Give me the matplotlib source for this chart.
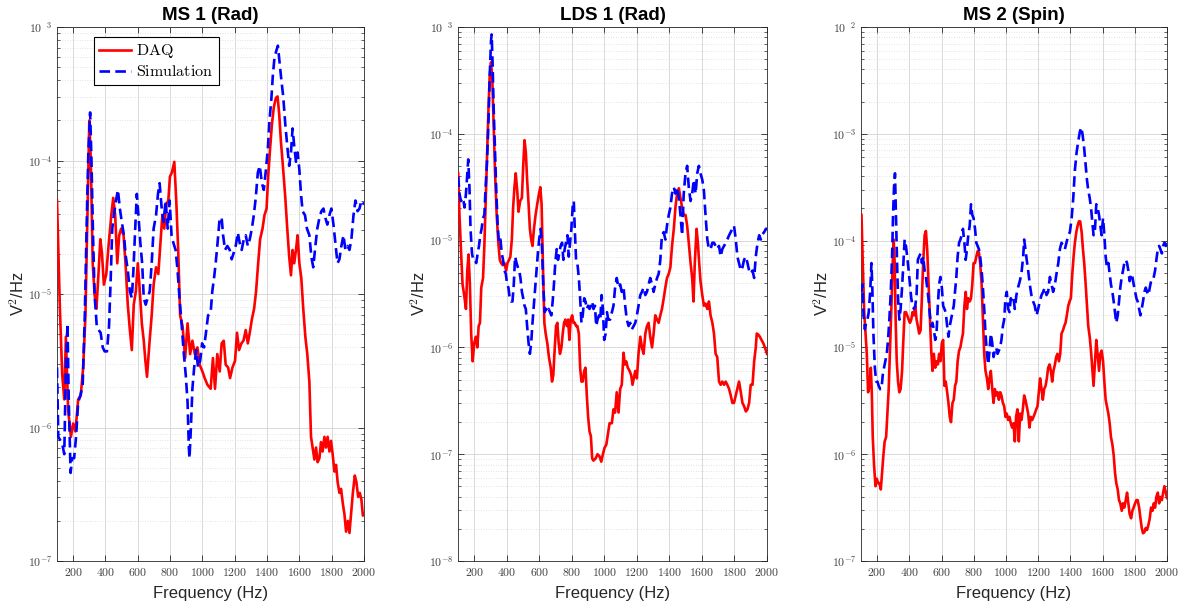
# -*- coding: utf-8 -*-
import matplotlib
matplotlib.use("Agg")
import numpy as np
import matplotlib.pyplot as plt
from matplotlib.ticker import LogLocator, FixedLocator, FuncFormatter, NullFormatter

# values: (frequency in Hz, log10 of PSD in V^2/Hz)
ms1_daq = [(100, -4.30), (118, -5.11), (132, -5.60), (145, -5.79), (155, -5.32), (169, -5.87),
           (186, -6.07), (200, -5.97), (214, -6.03), (231, -5.79), (247, -5.76), (262, -5.55),
           (276, -5.16), (288, -4.41), (300, -3.70), (309, -3.99), (321, -4.77), (333, -5.01),
           (344, -5.11), (358, -4.82), (368, -4.59), (378, -4.69), (390, -4.93), (405, -4.85),
           (419, -4.64), (436, -4.41), (448, -4.28), (460, -4.41), (473, -4.77), (485, -4.56),
           (497, -4.51), (512, -4.56), (524, -4.77), (538, -5.08), (551, -5.27), (563, -5.42),
           (575, -5.08), (588, -4.98), (600, -4.77), (610, -4.93), (625, -5.22), (637, -5.35),
           (647, -5.50), (657, -5.62), (672, -5.37), (686, -5.16), (698, -4.93), (713, -4.80),
           (727, -4.85), (739, -4.64), (752, -4.41), (764, -4.51), (776, -4.33), (789, -4.30),
           (799, -4.12), (811, -4.09), (826, -4.01), (838, -4.30), (850, -4.67), (862, -5.16),
           (877, -5.24), (893, -5.48), (908, -5.22), (924, -5.45), (938, -5.35), (953, -5.45),
           (969, -5.40), (983, -5.53), (1000, -5.58), (1014, -5.63), (1031, -5.68), (1051, -5.71),
           (1065, -5.48), (1078, -5.71), (1092, -5.45), (1107, -5.58), (1119, -5.37), (1132, -5.35),
           (1144, -5.53), (1159, -5.55), (1171, -5.63), (1186, -5.55), (1202, -5.50), (1214, -5.29),
           (1227, -5.42), (1241, -5.37), (1254, -5.35), (1268, -5.27), (1281, -5.37), (1293, -5.29),
           (1306, -5.19), (1320, -5.11), (1332, -4.98), (1345, -4.77), (1357, -4.59), (1372, -4.51),
           (1384, -4.41), (1397, -4.36), (1407, -4.12), (1417, -3.94), (1430, -3.73), (1442, -3.60),
           (1455, -3.53), (1465, -3.52), (1475, -3.65), (1486, -3.86), (1500, -4.07), (1513, -4.28),
           (1525, -4.51), (1537, -4.72), (1548, -4.86), (1558, -4.67), (1568, -4.77), (1579, -4.67),
           (1589, -4.56), (1600, -4.77), (1612, -4.88), (1624, -5.11), (1637, -5.32), (1649, -5.45),
           (1662, -5.66), (1672, -6.07), (1682, -6.15), (1693, -6.24), (1703, -6.15), (1713, -6.26),
           (1724, -6.23), (1734, -6.11), (1744, -6.18), (1755, -6.07), (1765, -6.15), (1775, -6.07),
           (1786, -6.18), (1796, -6.10), (1806, -6.20), (1817, -6.33), (1827, -6.28), (1837, -6.41),
           (1848, -6.49), (1858, -6.46), (1869, -6.57), (1879, -6.65), (1889, -6.78), (1900, -6.70),
           (1910, -6.79), (1920, -6.65), (1931, -6.49), (1943, -6.36), (1953, -6.41), (1964, -6.52),
           (1974, -6.49), (1984, -6.54), (1993, -6.66), (2000, -6.65)]

ms1_sim = [(100, -5.55), (108, -6.07), (118, -6.09), (132, -6.12), (145, -6.20), (155, -5.55),
           (165, -5.22), (173, -5.81), (184, -6.34), (194, -6.23), (206, -6.23), (218, -6.07),
           (231, -5.81), (245, -5.76), (259, -5.68), (272, -5.16), (284, -4.46), (294, -3.94),
           (305, -3.64), (313, -3.99), (323, -4.56), (333, -5.01), (346, -5.24), (358, -5.27),
           (370, -5.29), (383, -5.40), (395, -5.43), (409, -5.43), (422, -5.24), (432, -4.90),
           (442, -4.51), (452, -4.41), (465, -4.30), (477, -4.22), (489, -4.36), (501, -4.46),
           (514, -4.56), (526, -4.72), (538, -4.82), (551, -4.98), (563, -5.03), (573, -4.82),
           (584, -4.51), (594, -4.25), (604, -4.41), (616, -4.62), (627, -4.77), (637, -5.03),
           (649, -5.08), (661, -5.03), (674, -4.98), (686, -4.77), (698, -4.51), (713, -4.41),
           (725, -4.25), (735, -4.17), (748, -4.36), (760, -4.46), (772, -4.30), (785, -4.51),
           (797, -4.30), (809, -4.56), (821, -4.62), (834, -4.67), (846, -4.82), (858, -5.03),
           (871, -5.22), (883, -5.42), (897, -5.61), (908, -5.81), (916, -6.15), (920, -6.23),
           (928, -6.02), (938, -5.71), (949, -5.55), (961, -5.42), (973, -5.55), (986, -5.50),
           (998, -5.37), (1010, -5.40), (1022, -5.29), (1035, -5.16), (1051, -5.14), (1061, -4.98),
           (1072, -4.88), (1082, -4.77), (1092, -4.64), (1107, -4.43), (1119, -4.43), (1128, -4.56),
           (1140, -4.67), (1154, -4.64), (1169, -4.67), (1181, -4.74), (1194, -4.69), (1206, -4.64),
           (1219, -4.54), (1231, -4.62), (1243, -4.67), (1256, -4.59), (1268, -4.56), (1281, -4.64),
           (1293, -4.59), (1306, -4.51), (1318, -4.41), (1330, -4.28), (1343, -4.09), (1355, -4.04),
           (1368, -4.17), (1380, -4.22), (1393, -4.07), (1405, -3.91), (1415, -3.70), (1426, -3.55),
           (1436, -3.36), (1446, -3.23), (1457, -3.18), (1467, -3.14), (1477, -3.26), (1488, -3.39),
           (1500, -3.52), (1513, -3.73), (1525, -3.89), (1537, -4.04), (1548, -3.94), (1558, -3.76),
           (1568, -3.89), (1579, -4.01), (1589, -3.94), (1600, -4.07), (1610, -4.25), (1620, -4.38),
           (1635, -4.41), (1647, -4.51), (1662, -4.56), (1674, -4.72), (1686, -4.80), (1699, -4.64),
           (1711, -4.51), (1724, -4.43), (1736, -4.38), (1749, -4.36), (1761, -4.43), (1773, -4.48),
           (1786, -4.41), (1798, -4.36), (1811, -4.48), (1823, -4.62), (1836, -4.77), (1848, -4.74),
           (1860, -4.64), (1873, -4.56), (1885, -4.67), (1898, -4.64), (1910, -4.67), (1922, -4.59),
           (1935, -4.41), (1947, -4.30), (1960, -4.38), (1972, -4.36), (1984, -4.30), (2000, -4.33)]

lds1_daq = [(101, -4.37), (109, -4.76), (118, -5.08), (128, -5.41), (138, -5.51), (149, -5.64),
            (157, -5.28), (165, -5.13), (173, -5.41), (181, -5.87), (190, -6.13), (200, -5.96),
            (210, -5.90), (219, -6.00), (227, -5.80), (235, -5.77), (243, -5.44), (254, -5.35),
            (262, -5.05), (270, -4.66), (278, -4.24), (287, -3.78), (295, -3.46), (303, -3.33),
            (311, -3.49), (319, -3.91), (328, -4.37), (338, -4.76), (348, -5.02), (357, -5.18),
            (365, -5.21), (375, -5.23), (385, -5.21), (396, -5.28), (404, -5.21), (414, -5.18),
            (422, -5.15), (431, -4.99), (439, -4.69), (447, -4.50), (455, -4.37), (464, -4.53),
            (472, -4.73), (482, -4.63), (493, -4.60), (501, -4.30), (509, -4.06), (517, -4.17),
            (525, -4.43), (534, -4.66), (542, -4.89), (550, -4.99), (558, -5.05), (567, -4.89),
            (577, -4.76), (587, -4.66), (598, -4.56), (606, -4.50), (614, -4.66), (622, -5.21),
            (631, -5.77), (639, -5.87), (649, -5.96), (659, -6.09), (670, -6.19), (678, -6.32),
            (686, -6.26), (694, -6.03), (703, -5.80), (711, -5.77), (719, -5.96), (727, -6.06),
            (736, -6.00), (744, -5.87), (752, -5.77), (760, -5.74), (769, -5.80), (777, -5.74),
            (785, -5.93), (793, -5.74), (802, -5.70), (810, -5.77), (818, -5.77), (826, -5.80),
            (834, -5.80), (843, -5.87), (851, -6.19), (859, -6.32), (867, -6.32), (876, -6.22),
            (884, -6.19), (892, -6.45), (900, -6.65), (909, -6.79), (917, -6.83), (925, -7.04),
            (933, -7.06), (946, -7.04), (958, -7.00), (970, -7.02), (981, -7.07), (991, -7.00),
            (1001, -6.94), (1012, -6.91), (1022, -6.81), (1032, -6.71), (1046, -6.71), (1056, -6.58),
            (1066, -6.61), (1076, -6.42), (1087, -6.61), (1097, -6.39), (1107, -6.35), (1118, -6.05),
            (1126, -6.16), (1134, -6.13), (1144, -6.19), (1155, -6.22), (1165, -6.26), (1173, -6.35),
            (1181, -6.29), (1190, -6.22), (1200, -6.29), (1210, -6.06), (1221, -5.90), (1231, -6.00),
            (1241, -6.06), (1252, -5.87), (1262, -5.80), (1272, -5.77), (1282, -5.90), (1293, -6.00),
            (1303, -5.87), (1313, -5.70), (1324, -5.74), (1334, -5.77), (1344, -5.70), (1354, -5.64),
            (1365, -5.54), (1375, -5.44), (1385, -5.35), (1396, -5.31), (1406, -5.25), (1416, -5.05),
            (1427, -4.89), (1437, -4.69), (1447, -4.56), (1458, -4.51), (1468, -4.60), (1478, -4.69),
            (1488, -4.76), (1499, -4.76), (1509, -4.86), (1519, -5.02), (1530, -5.21), (1540, -5.35),
            (1548, -5.57), (1556, -5.21), (1567, -4.89), (1575, -5.02), (1583, -5.21), (1591, -5.38),
            (1602, -5.51), (1612, -5.61), (1622, -5.59), (1633, -5.64), (1643, -5.57), (1653, -5.70),
            (1664, -5.77), (1674, -5.87), (1684, -6.06), (1694, -6.09), (1705, -6.32), (1715, -6.35),
            (1725, -6.32), (1736, -6.35), (1746, -6.32), (1756, -6.35), (1767, -6.39), (1777, -6.45),
            (1787, -6.52), (1797, -6.52), (1808, -6.45), (1818, -6.39), (1828, -6.32), (1839, -6.42),
            (1849, -6.52), (1859, -6.55), (1870, -6.60), (1880, -6.58), (1890, -6.52), (1900, -6.35),
            (1911, -6.35), (1921, -6.13), (1931, -6.00), (1937, -5.87), (1946, -5.88), (1956, -5.90),
            (1966, -5.93), (1977, -5.96), (1987, -6.00), (2000, -6.06)]

lds1_sim = [(101, -4.40), (109, -4.56), (118, -4.63), (126, -4.60), (134, -4.63), (140, -4.69),
            (149, -4.56), (157, -4.37), (163, -4.24), (171, -4.53), (177, -4.89), (186, -5.12),
            (194, -5.18), (204, -5.18), (212, -5.21), (221, -5.12), (229, -5.05), (237, -4.95),
            (245, -4.89), (254, -4.79), (262, -4.76), (270, -4.50), (278, -4.27), (287, -3.91),
            (295, -3.46), (303, -3.13), (307, -3.07), (313, -3.36), (319, -3.75), (328, -4.17),
            (336, -4.56), (344, -4.86), (352, -5.02), (361, -4.99), (369, -5.12), (377, -5.18),
            (385, -5.28), (394, -5.31), (402, -5.41), (410, -5.44), (418, -5.54), (427, -5.57),
            (435, -5.57), (443, -5.41), (451, -5.15), (460, -5.21), (468, -5.25), (476, -5.28),
            (484, -5.35), (493, -5.48), (501, -5.54), (509, -5.61), (517, -5.64), (525, -5.80),
            (534, -5.96), (542, -6.06), (550, -5.96), (558, -5.77), (566, -5.61), (575, -5.44),
            (583, -5.28), (591, -5.12), (599, -4.99), (608, -4.89), (616, -5.05), (624, -5.41),
            (633, -5.67), (641, -5.64), (649, -5.67), (657, -5.64), (666, -5.67), (674, -5.70),
            (682, -5.57), (690, -5.41), (698, -5.21), (707, -5.08), (715, -5.18), (723, -5.12),
            (731, -5.05), (740, -5.02), (748, -5.18), (756, -5.08), (764, -5.02), (773, -4.95),
            (781, -5.15), (789, -5.02), (797, -4.89), (806, -4.66), (812, -4.63), (818, -4.89),
            (826, -5.18), (834, -5.21), (843, -5.35), (851, -5.54), (859, -5.77), (867, -5.70),
            (876, -5.54), (884, -5.57), (892, -5.64), (900, -5.61), (909, -5.64), (917, -5.61),
            (925, -5.57), (933, -5.64), (942, -5.61), (950, -5.80), (958, -5.74), (967, -5.70),
            (975, -5.74), (983, -5.51), (991, -5.64), (999, -5.93), (1008, -5.87), (1016, -5.67),
            (1024, -5.74), (1035, -5.74), (1046, -5.67), (1056, -5.61), (1066, -5.44), (1076, -5.35),
            (1087, -5.44), (1097, -5.41), (1107, -5.48), (1118, -5.44), (1128, -5.61), (1138, -5.74),
            (1149, -5.80), (1159, -5.77), (1169, -5.83), (1180, -5.80), (1190, -5.77), (1200, -5.70),
            (1210, -5.61), (1221, -5.51), (1231, -5.48), (1241, -5.44), (1252, -5.51), (1262, -5.48),
            (1272, -5.41), (1282, -5.35), (1293, -5.41), (1303, -5.48), (1313, -5.41), (1324, -5.35),
            (1334, -5.31), (1344, -5.18), (1354, -4.95), (1365, -4.92), (1375, -4.99), (1385, -4.86),
            (1396, -4.76), (1406, -4.69), (1416, -4.56), (1427, -4.50), (1437, -4.56), (1447, -4.50),
            (1458, -4.60), (1468, -4.76), (1478, -4.95), (1488, -4.56), (1499, -4.37), (1509, -4.30),
            (1519, -4.50), (1530, -4.63), (1540, -4.56), (1550, -4.43), (1561, -4.56), (1571, -4.37),
            (1581, -4.30), (1591, -4.37), (1602, -4.43), (1612, -4.53), (1622, -4.76), (1633, -4.99),
            (1643, -5.08), (1653, -5.08), (1664, -5.02), (1674, -5.02), (1684, -5.05), (1694, -5.08),
            (1705, -5.05), (1715, -5.15), (1725, -5.08), (1736, -5.05), (1746, -5.02), (1756, -4.99),
            (1767, -4.95), (1777, -4.92), (1787, -4.89), (1797, -4.86), (1808, -4.99), (1818, -5.15),
            (1828, -5.21), (1839, -5.28), (1849, -5.25), (1859, -5.18), (1870, -5.15), (1880, -5.21),
            (1890, -5.28), (1900, -5.31), (1911, -5.28), (1921, -5.35), (1931, -5.15), (1942, -5.02),
            (1952, -4.95), (1962, -4.99), (1972, -4.94), (1983, -4.92), (1993, -4.89), (2000, -4.89)]

ms2_daq = [(103, -3.76), (111, -4.21), (120, -4.67), (128, -4.87), (136, -5.06), (144, -5.42),
           (153, -5.36), (161, -5.19), (167, -5.42), (173, -5.84), (181, -6.10), (190, -6.30),
           (198, -6.23), (206, -6.27), (214, -6.27), (223, -6.33), (231, -6.17), (239, -6.01),
           (247, -5.88), (256, -5.84), (264, -5.62), (272, -5.39), (280, -5.03), (289, -4.61),
           (297, -4.21), (303, -3.99), (309, -4.21), (315, -4.74), (322, -5.13), (330, -5.32),
           (338, -5.42), (346, -5.39), (355, -5.22), (363, -4.93), (371, -4.67), (379, -4.67),
           (387, -4.70), (396, -4.74), (404, -4.77), (412, -4.74), (420, -4.67), (429, -4.70),
           (437, -4.61), (445, -4.74), (453, -4.80), (461, -4.87), (470, -4.84), (478, -4.54),
           (486, -4.21), (495, -3.95), (503, -3.91), (511, -4.08), (519, -4.38), (528, -4.70),
           (536, -5.03), (544, -5.22), (552, -5.06), (561, -5.19), (569, -5.13), (577, -5.16),
           (585, -5.06), (593, -5.13), (602, -4.96), (610, -4.93), (618, -5.36), (626, -5.32),
           (635, -5.42), (643, -5.52), (651, -5.65), (659, -5.70), (668, -5.52), (676, -5.49),
           (684, -5.36), (692, -5.32), (700, -5.13), (709, -5.03), (717, -5.00), (725, -4.93),
           (733, -4.87), (742, -4.61), (750, -4.48), (758, -4.64), (766, -4.54), (775, -4.57),
           (783, -4.54), (791, -4.41), (799, -4.21), (808, -4.21), (816, -4.15), (824, -4.10),
           (832, -4.11), (840, -4.21), (849, -4.41), (857, -4.74), (865, -5.06), (873, -5.22),
           (882, -5.29), (890, -5.39), (898, -5.29), (906, -5.22), (915, -5.39), (923, -5.52),
           (931, -5.39), (939, -5.45), (948, -5.42), (956, -5.49), (964, -5.42), (972, -5.45),
           (981, -5.52), (989, -5.55), (997, -5.65), (1005, -5.62), (1014, -5.68), (1022, -5.65),
           (1030, -5.71), (1038, -5.75), (1047, -5.71), (1055, -5.88), (1063, -5.65), (1071, -5.58),
           (1080, -5.88), (1088, -5.62), (1096, -5.68), (1105, -5.58), (1113, -5.45), (1121, -5.49),
           (1129, -5.55), (1138, -5.62), (1146, -5.75), (1154, -5.65), (1163, -5.68), (1171, -5.65),
           (1179, -5.62), (1188, -5.58), (1196, -5.55), (1204, -5.42), (1212, -5.29), (1221, -5.39),
           (1229, -5.49), (1237, -5.39), (1246, -5.36), (1254, -5.29), (1262, -5.19), (1271, -5.16),
           (1279, -5.22), (1287, -5.32), (1295, -5.22), (1304, -5.16), (1312, -5.09), (1320, -5.06),
           (1329, -5.13), (1337, -5.06), (1345, -4.87), (1354, -4.84), (1362, -4.80), (1370, -4.77),
           (1378, -4.70), (1387, -4.61), (1395, -4.57), (1403, -4.54), (1412, -4.31), (1420, -4.15),
           (1428, -4.02), (1437, -3.92), (1445, -3.86), (1453, -3.82), (1461, -3.82), (1470, -3.92),
           (1478, -4.08), (1486, -4.21), (1495, -4.41), (1503, -4.61), (1511, -4.80), (1520, -4.90),
           (1528, -5.03), (1536, -5.19), (1544, -5.36), (1553, -5.13), (1561, -4.93), (1569, -5.06),
           (1578, -5.22), (1586, -5.06), (1594, -5.03), (1603, -5.13), (1611, -5.32), (1619, -5.49),
           (1627, -5.55), (1636, -5.62), (1644, -5.71), (1652, -5.84), (1661, -5.91), (1669, -6.01),
           (1677, -6.17), (1685, -6.27), (1694, -6.33), (1702, -6.43), (1710, -6.46), (1719, -6.53),
           (1727, -6.46), (1735, -6.50), (1744, -6.43), (1752, -6.36), (1760, -6.46), (1768, -6.56),
           (1777, -6.60), (1785, -6.53), (1793, -6.50), (1802, -6.46), (1810, -6.43), (1818, -6.43),
           (1827, -6.50), (1835, -6.60), (1843, -6.69), (1851, -6.74), (1860, -6.73), (1868, -6.69),
           (1876, -6.71), (1885, -6.66), (1893, -6.60), (1901, -6.50), (1910, -6.53), (1918, -6.46),
           (1926, -6.50), (1934, -6.40), (1943, -6.36), (1951, -6.46), (1959, -6.40), (1968, -6.43),
           (1976, -6.36), (1984, -6.30), (1993, -6.36), (2000, -6.41)]

ms2_sim = [(103, -4.48), (109, -4.41), (116, -4.70), (124, -4.83), (132, -4.77), (140, -4.74),
           (148, -4.67), (157, -4.48), (165, -4.21), (171, -4.48), (177, -4.87), (186, -5.19),
           (194, -5.32), (202, -5.32), (210, -5.36), (219, -5.39), (227, -5.39), (235, -5.26),
           (243, -5.19), (251, -5.13), (260, -5.06), (268, -4.93), (276, -4.74), (284, -4.51),
           (293, -4.15), (299, -3.76), (305, -3.50), (311, -3.37), (317, -3.76), (324, -4.21),
           (330, -4.54), (338, -4.74), (346, -4.64), (355, -4.44), (363, -4.21), (371, -3.99),
           (379, -4.05), (387, -4.15), (396, -4.28), (404, -4.41), (412, -4.54), (420, -4.61),
           (429, -4.64), (437, -4.61), (445, -4.51), (453, -4.18), (461, -4.15), (470, -4.12),
           (478, -4.21), (486, -4.15), (495, -4.28), (503, -4.34), (511, -4.44), (519, -4.54),
           (528, -4.70), (536, -4.80), (544, -4.77), (552, -4.83), (561, -4.93), (569, -4.87),
           (577, -4.61), (585, -4.41), (593, -4.34), (602, -4.44), (610, -4.61), (618, -4.64),
           (626, -4.67), (635, -4.80), (643, -4.90), (651, -4.80), (659, -4.74), (668, -4.67),
           (676, -4.61), (684, -4.48), (692, -4.34), (700, -4.15), (709, -4.02), (717, -3.99),
           (725, -3.95), (733, -3.89), (742, -4.02), (750, -4.18), (758, -4.08), (766, -3.95),
           (775, -3.86), (783, -3.66), (791, -3.76), (799, -3.79), (808, -3.89), (816, -4.02),
           (824, -4.05), (832, -4.08), (840, -4.15), (849, -4.28), (857, -4.44), (865, -4.64),
           (873, -4.87), (882, -5.06), (890, -5.16), (898, -5.03), (906, -4.87), (915, -4.96),
           (923, -5.09), (931, -5.03), (939, -5.00), (948, -5.06), (956, -5.03), (964, -5.00),
           (972, -4.93), (981, -4.80), (989, -4.74), (997, -4.54), (1005, -4.48), (1014, -4.64),
           (1022, -4.67), (1030, -4.54), (1038, -4.57), (1047, -4.54), (1055, -4.64), (1065, -4.51),
           (1075, -4.44), (1086, -4.38), (1096, -4.31), (1107, -4.15), (1113, -3.99), (1121, -4.08),
           (1129, -4.18), (1138, -4.28), (1148, -4.41), (1158, -4.51), (1169, -4.57), (1179, -4.61),
           (1190, -4.70), (1200, -4.64), (1210, -4.57), (1221, -4.51), (1231, -4.48), (1241, -4.44),
           (1252, -4.51), (1262, -4.48), (1273, -4.34), (1283, -4.41), (1293, -4.48), (1304, -4.41),
           (1314, -4.31), (1325, -4.21), (1335, -4.08), (1345, -4.02), (1356, -4.05), (1366, -4.08),
           (1376, -4.02), (1387, -3.95), (1397, -3.92), (1408, -3.79), (1418, -3.60), (1428, -3.34),
           (1439, -3.17), (1449, -3.07), (1459, -2.98), (1468, -2.94), (1476, -3.01), (1486, -3.14),
           (1495, -3.30), (1503, -3.43), (1511, -3.53), (1520, -3.60), (1528, -3.69), (1536, -3.82),
           (1544, -3.95), (1553, -3.89), (1561, -3.66), (1569, -3.69), (1578, -3.76), (1586, -3.86),
           (1594, -3.95), (1603, -3.79), (1611, -3.95), (1619, -4.15), (1627, -4.25), (1636, -4.21),
           (1644, -4.31), (1652, -4.41), (1661, -4.48), (1669, -4.57), (1677, -4.67), (1685, -4.77),
           (1694, -4.70), (1702, -4.57), (1710, -4.44), (1719, -4.34), (1727, -4.28), (1735, -4.21),
           (1744, -4.18), (1752, -4.21), (1760, -4.28), (1768, -4.38), (1777, -4.31), (1785, -4.34),
           (1793, -4.41), (1802, -4.48), (1810, -4.54), (1818, -4.57), (1827, -4.64), (1835, -4.70),
           (1843, -4.64), (1851, -4.57), (1860, -4.48), (1868, -4.44), (1876, -4.48), (1885, -4.51),
           (1893, -4.44), (1901, -4.38), (1910, -4.38), (1918, -4.34), (1926, -4.28), (1934, -4.18),
           (1943, -4.08), (1951, -4.05), (1959, -4.08), (1968, -4.12), (1976, -4.05), (1984, -4.02),
           (1993, -4.05), (2000, -4.02)]

titles = ["MS 1 (Rad)", "LDS 1 (Rad)", "MS 2 (Spin)"]
ylims = [(-7, -3), (-8, -3), (-7, -2)]
xticks = [200, 400, 600, 800, 1000, 1200, 1400, 1600, 1800, 2000]

plt.rcParams['mathtext.fontset'] = 'cm'
sans = ['Liberation Sans', 'DejaVu Sans']


def psd_curve(pairs):
    f = np.array([p[0] for p in pairs], dtype=float)
    v = 10.0 ** np.array([p[1] for p in pairs])
    return f, v


def make_ylabel(top):
    def fmt(y, pos):
        e = int(round(np.log10(y)))
        if e == top:
            # the reference shows the top label with the minus sign missing
            return r'$10^{\ \ %d}$' % abs(e)
        return r'$10^{%d}$' % e
    return fmt


fig = plt.figure(figsize=(11.81, 6.05), dpi=100)
lefts = [57, 458, 861]
widths = [307, 309, 306]
axes = [fig.add_axes([l / 1181, 1 - 561 / 605, w / 1181, 534 / 605]) for l, w in zip(lefts, widths)]

curves = [(ms1_daq, ms1_sim), (lds1_daq, lds1_sim), (ms2_daq, ms2_sim)]

for ax, (daq, sim), title, (ylo, yhi) in zip(axes, curves, titles, ylims):
    fd, vd = psd_curve(daq)
    fs, vs = psd_curve(sim)
    ax.plot(fd, vd, color='#ff0000', lw=1.9, label=r'$\mathrm{DAQ}$', zorder=3)
    ax.plot(fs, vs, color='#0000ff', lw=1.9, dashes=(4, 2), label=r'$\mathrm{Simulation}$', zorder=3)
    ax.set_yscale('log')
    ax.set_xlim(100, 2000)
    ax.set_ylim(10.0 ** ylo, 10.0 ** yhi)

    ax.xaxis.set_major_locator(FixedLocator(xticks))
    ax.xaxis.set_major_formatter(FuncFormatter(lambda x, p: r'$%d$' % x))
    ax.yaxis.set_major_locator(LogLocator(base=10, numticks=20))
    ax.yaxis.set_minor_locator(LogLocator(base=10, subs=np.arange(2, 10), numticks=20))
    ax.yaxis.set_major_formatter(FuncFormatter(make_ylabel(yhi)))
    ax.yaxis.set_minor_formatter(NullFormatter())

    ax.grid(True, which='major', color='#d9d9d9', lw=0.7, zorder=0)
    ax.grid(True, which='minor', axis='y', color='#d9d9d9', lw=0.6, ls=(0, (1, 2)), zorder=0)
    ax.set_axisbelow(True)

    ax.tick_params(which='both', direction='in', top=True, right=True,
                   color='#262626', labelcolor='#404040', labelsize=8.5)
    ax.tick_params(which='major', length=4, width=0.6)
    ax.tick_params(which='minor', length=2, width=0.5)
    for s in ax.spines.values():
        s.set_color('#262626')
        s.set_linewidth(0.6)

    ax.set_title(title, fontsize=13.5, fontweight='bold', family=sans, pad=5)
    ax.set_xlabel('Frequency (Hz)', fontsize=12, family=sans, color='#262626', labelpad=5)
    ax.set_ylabel(r'V$^2$/Hz', fontsize=12, family=sans, color='#262626')
    ax.yaxis.set_label_coords(-0.098, 0.5)

leg = axes[0].legend(loc='upper left', bbox_to_anchor=(0.12, 0.982), fontsize=11.5,
                     fancybox=False, framealpha=1, edgecolor='black', handlelength=2.0,
                     borderpad=0.35, labelspacing=0.25, handletextpad=0.3, borderaxespad=0)
leg.get_frame().set_linewidth(0.8)

fig.savefig('out.png', dpi=100)
